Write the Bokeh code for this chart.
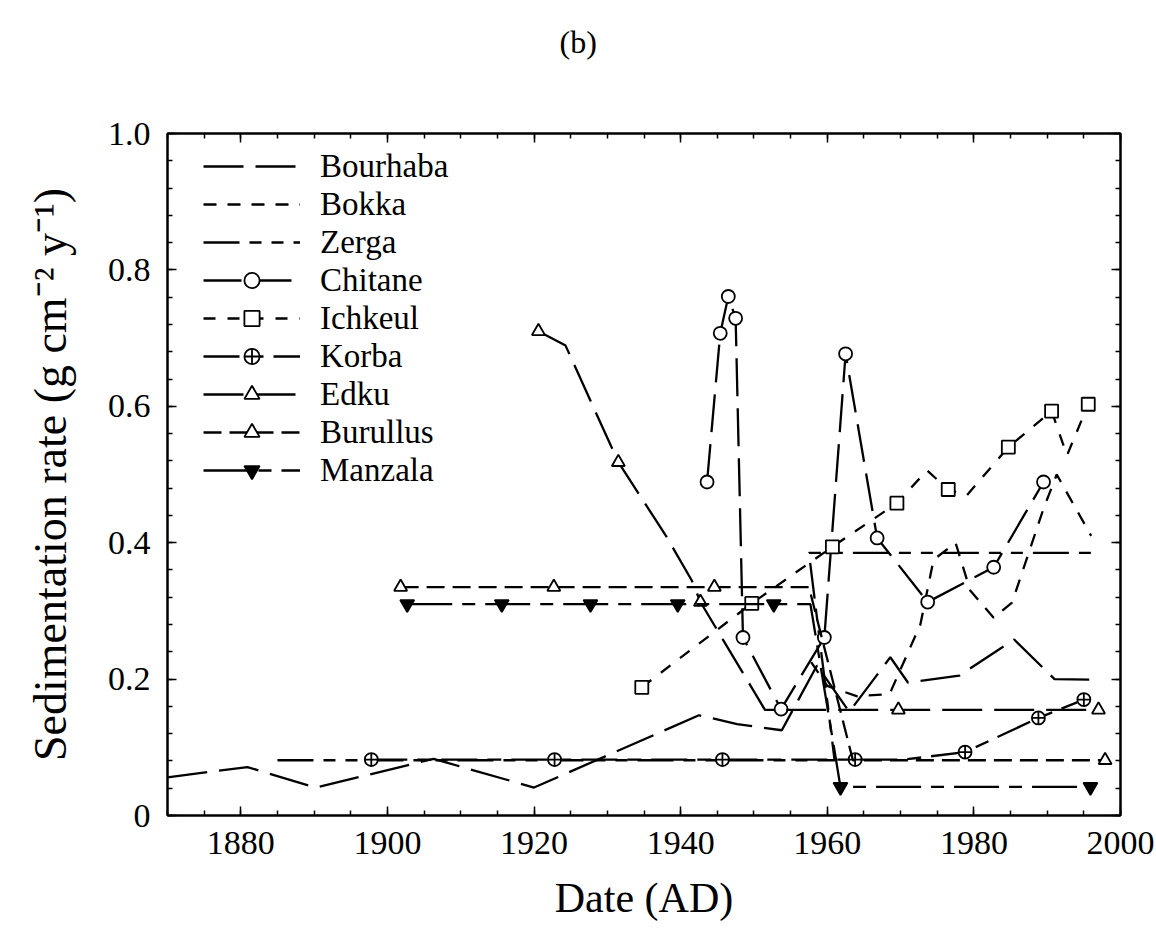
from bokeh.plotting import figure
from bokeh.models import (Range1d, LinearAxis, FixedTicker, Legend, LegendItem,
                          CustomJSTickFormatter, Title)
from bokeh.embed import file_html
from bokeh.resources import INLINE
import numpy as np

# ---- tick labels ----
x_ticks = [1880, 1900, 1920, 1940, 1960, 1980, 2000]
x_tick_labels = ["1880", "1900", "1920", "1940", "1960", "1980", "2000"]
y_ticks = [0.0, 0.2, 0.4, 0.6, 0.8, 1.0]
y_tick_labels = ["0", "0.2", "0.4", "0.6", "0.8", "1.0"]

# ---- series (year AD, sedimentation rate g cm-2 y-1) ----
bourhaba_year = [1870, 1880.9, 1890.2, 1906.3, 1920.0, 1942.5, 1947.7, 1953.8,
                 1958.6, 1963.0, 1968.6, 1971.0, 1978.0, 1985.5, 1991.0, 1997.0]
bourhaba_rate = [0.056, 0.071, 0.041, 0.083, 0.041, 0.147, 0.134, 0.125,
                 0.220, 0.152, 0.232, 0.195, 0.205, 0.258, 0.200, 0.199]

bokka_year = [1957.8, 1960.0, 1964.0, 1968.5, 1972.7, 1974.5, 1977.5, 1979.5,
              1982.7, 1985.2, 1989.5, 1991.3, 1996.0]
bokka_rate = [0.225, 0.190, 0.175, 0.178, 0.280, 0.375, 0.400, 0.330,
              0.290, 0.312, 0.450, 0.500, 0.410]

zerga_year = [1885.0, 1961.0, 1957.5, 1997.0]
zerga_rate = [0.081, 0.081, 0.385, 0.385]

chitane_year = [1943.6, 1945.4, 1946.5, 1947.5, 1948.5, 1953.7, 1959.6, 1962.5,
                1966.8, 1973.7, 1982.7, 1989.5]
chitane_rate = [0.489, 0.707, 0.761, 0.729, 0.261, 0.156, 0.261, 0.677,
                0.407, 0.313, 0.364, 0.489]

ichkeul_year = [1934.7, 1949.7, 1960.7, 1969.5, 1973.6, 1976.5, 1979.0, 1984.7,
                1990.6, 1992.7, 1995.6]
ichkeul_rate = [0.188, 0.311, 0.394, 0.458, 0.506, 0.478, 0.469, 0.540,
                0.593, 0.528, 0.603]
ichkeul_marked = [True, True, True, True, False, True, False, True, True, False, True]

korba_year = [1897.8, 1922.8, 1945.7, 1963.8, 1970.5, 1978.8, 1988.8, 1995.0]
korba_rate = [0.082, 0.082, 0.082, 0.082, 0.082, 0.093, 0.143, 0.170]
korba_marked = [True, True, True, True, False, True, True, True]

edku_year = [1920.6, 1924.3, 1931.5, 1938.0, 1941.5, 1942.7, 1951.5, 1969.7, 1997.0]
edku_rate = [0.710, 0.689, 0.518, 0.410, 0.345, 0.313, 0.155, 0.155, 0.155]
edku_marked = [True, False, True, False, False, True, False, True, True]

burullus_year = [1901.8, 1922.7, 1944.6, 1957.5, 1963.5, 1997.9]
burullus_rate = [0.335, 0.335, 0.335, 0.335, 0.081, 0.081]
burullus_marked = [True, True, True, False, False, True]

manzala_year = [1902.7, 1915.6, 1927.7, 1939.6, 1952.7, 1957.7, 1961.8, 1995.9]
manzala_rate = [0.310, 0.310, 0.310, 0.310, 0.310, 0.310, 0.042, 0.042]
manzala_marked = [True, True, True, True, True, False, True, True]

FONT = "Liberation Serif"
INK = "black"

p = figure(width=1156, height=943,
           x_range=Range1d(1870, 2000), y_range=Range1d(0, 1.0),
           output_backend="svg", toolbar_location=None,
           min_border_left=167, min_border_right=36,
           min_border_top=133, min_border_bottom=128)
p.xgrid.visible = False
p.ygrid.visible = False
p.outline_line_color = INK
p.outline_line_width = 2
p.background_fill_color = "white"
p.border_fill_color = "white"

p.title.text = "(b)"
p.title.align = "left"
p.title.text_font = FONT
p.title.text_font_size = "32px"
p.title.text_font_style = "normal"
p.title.text_color = INK
p.title.offset = 392
p.title.standoff = 10

bottom_axis = p.below[0]
left_axis = p.left[0]
top_axis = LinearAxis()
right_axis = LinearAxis()
p.add_layout(top_axis, "above")
p.add_layout(right_axis, "right")
# empty spacer between the top axis and the "(b)" heading
p.add_layout(Title(text=" ", text_font_size="1px", standoff=66), "above")

x_minor = list(np.arange(1870, 2001, 5))
y_minor = list(np.round(np.arange(0, 1.001, 0.04), 2))
x_ticker = FixedTicker(ticks=x_ticks, minor_ticks=x_minor)
y_ticker = FixedTicker(ticks=y_ticks, minor_ticks=y_minor)

blank = CustomJSTickFormatter(code="return ''")

for ax, tk in [(bottom_axis, x_ticker), (top_axis, x_ticker),
               (left_axis, y_ticker), (right_axis, y_ticker)]:
    ax.ticker = tk
    ax.major_tick_in = 9
    ax.major_tick_out = 0
    ax.minor_tick_in = 5
    ax.minor_tick_out = 0
    ax.axis_line_color = INK
    ax.axis_line_width = 2
    ax.major_tick_line_color = INK
    ax.major_tick_line_width = 1.5
    ax.minor_tick_line_color = INK
    ax.minor_tick_line_width = 1.5
    ax.major_label_text_font = FONT
    ax.major_label_text_font_size = "34px"
    ax.major_label_text_color = INK

for ax in (top_axis, right_axis):
    ax.formatter = blank
    ax.major_label_standoff = 0

bottom_axis.major_label_overrides = {float(t): s for t, s in zip(x_ticks, x_tick_labels)}
left_axis.major_label_overrides = {float(t): s for t, s in zip(y_ticks, y_tick_labels)}
bottom_axis.major_label_standoff = 16
left_axis.major_label_standoff = 17

bottom_axis.axis_label = "Date (AD)"
left_axis.axis_label = "Sedimentation rate (g cm\u207b\u00b2 y\u207b\u00b9)"
for ax, fs in ((bottom_axis, "42px"), (left_axis, "46px")):
    ax.axis_label_text_font = FONT
    ax.axis_label_text_font_size = fs
    ax.axis_label_text_font_style = "normal"
    ax.axis_label_text_color = INK
bottom_axis.axis_label_standoff = 18
left_axis.axis_label_standoff = 29

LW = 2.3


def pick(vals, mask):
    return [v for v, m in zip(vals, mask) if m]


def series(xs, ys, dash, marker=None, mask=None, fill="white", size=13):
    rs = [p.line(xs, ys, line_color=INK, line_width=LW, line_dash=dash)]
    if marker is not None:
        if mask is None:
            mask = [True] * len(xs)
        rs.append(p.scatter(pick(xs, mask), pick(ys, mask), marker=marker,
                            size=size, fill_color=fill, line_color=INK,
                            line_width=1.8))
    return rs


items = [
    ("Bourhaba", series(bourhaba_year, bourhaba_rate, "40 12")),
    ("Bokka", series(bokka_year, bokka_rate, "13 11")),
    ("Zerga", series(zerga_year, zerga_rate, "36 10 12 10 12 10")),
    ("Chitane", series(chitane_year, chitane_rate, "38 12", "circle")),
    ("Ichkeul", series(ichkeul_year, ichkeul_rate, "12 12", "square", ichkeul_marked)),
    ("Korba", series(korba_year, korba_rate, "36 10 14 10", "circle_cross", korba_marked)),
    ("Edku", series(edku_year, edku_rate, "40 12", "triangle", edku_marked)),
    ("Burullus", series(burullus_year, burullus_rate, "18 8", "triangle", burullus_marked)),
    ("Manzala", series(manzala_year, manzala_rate, "45 10 13 10", "inverted_triangle",
                       manzala_marked, fill=INK, size=14)),
]

legend = Legend(items=[LegendItem(label=n, renderers=r) for n, r in items],
                location=(36, 326))
legend.label_text_font = FONT
legend.label_text_font_size = "33px"
legend.label_text_color = INK
legend.glyph_width = 97
legend.glyph_height = 38
legend.label_height = 38
legend.label_standoff = 20
legend.spacing = 0
legend.padding = 0
legend.margin = 0
legend.border_line_color = None
legend.background_fill_alpha = 0
p.add_layout(legend)

open("out.html", "w").write(file_html(p, INLINE))
